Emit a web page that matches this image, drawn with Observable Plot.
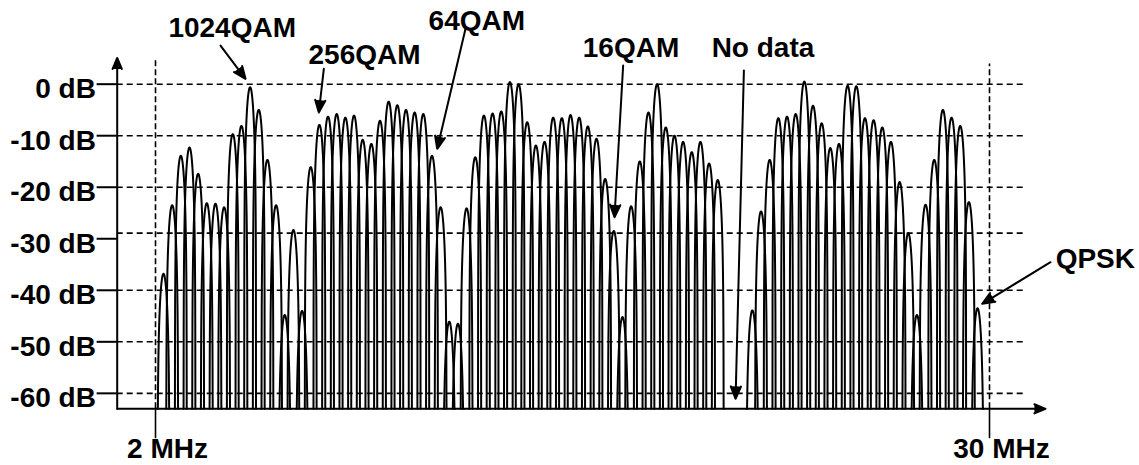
<!DOCTYPE html>
<html><head><meta charset="utf-8">
<script src="https://cdn.jsdelivr.net/npm/d3@7"></script>
<script src="https://cdn.jsdelivr.net/npm/@observablehq/plot@0.6"></script>
<style>html,body{margin:0;padding:0;background:#fff;} svg{display:block;}</style>
</head><body><div id="chart"></div>
<script>
// Peak level (dB) of each carrier, by carrier number (null = carrier absent)
const peakDb = [
  -36.8, -23.5, -13.9, -12.3, -17.4, -23.1, -23.2, -23.9, -9.7, -8.1,
  -0.6, -5.0, -14.7, -23.5, -44.8, -28.3, -44.0, -16.1, -7.9, -6.3,
  -5.8, -6.5, -6.1, -10.8, -11.6, -7.1, -3.4, -4.1, -5.0, -5.5,
  -5.8, -13.9, -23.9, -46.1, -46.5, -24.1, -14.2, -6.1, -5.7, -5.3,
  0.4, 0.0, -7.4, -11.9, -11.2, -6.5, -6.6, -6.0, -6.5, -8.2,
  -10.6, -18.4, -28.5, -45.2, -23.7, -15.0, -5.5, 0.0, -8.4, -10.0,
  -11.2, -13.2, -11.2, -15.4, -18.6, null, null, null, -43.9, -24.7,
  -14.7, -6.6, -6.3, -5.8, 0.5, -4.2, -7.6, -12.4, -11.6, -0.3,
  -0.4, -6.6, -7.0, -8.4, -11.2, -19.0, -28.9, -44.8, -23.4, -14.7,
  -5.0, -6.5, -8.1, -22.9, -43.5
];
const firstCarrierMHz = 2.2686;
const carrierSpacingMHz = 0.29074;
const lobeHalfWidthMHz = 0.198;
const floorDb = -63;

const yTicks = [0, -10, -20, -30, -40, -50, -60];
const yTickLabels = ["0 dB", "-10 dB", "-20 dB", "-30 dB", "-40 dB", "-50 dB", "-60 dB"];
const gridDb = [0, -10, -20, -28.9, -40, -50, -60];

const xTicks = [2, 30];
const xTickLabels = ["2 MHz", "30 MHz"];
const xTickLabelDb = [-72.5, -72.5];
const dashedTopDb = [5.1, 3.9];

const noteLabels = ["1024QAM", "256QAM", "64QAM", "16QAM", "No data", "QPSK"];
const noteX = [4.575, 9.017, 12.787, 17.964, 22.395, 32.22];
const noteY = [9.11, 3.95, 10.55, 5.23, 5.23, -35.77];
const arrowX1 = [4.182, 7.651, 12.408, 17.70, 21.754, 32.048];
const arrowY1 = [7.50, 2.98, 10.74, 3.62, 2.65, -34.55];
const arrowX2 = [5.022, 7.483, 11.458, 17.41, 21.475, 29.755];
const arrowY2 = [1.04, -5.50, -12.54, -25.82, -61.06, -42.62];

const xMin = 0.714, xMax = 31.88, yMax = 5.1;
const gridEndMHz = 31.26;

// Build sinc-shaped main lobe outline for each carrier from its peak level
const lobes = [];
peakDb.forEach((p, k) => {
  if (p == null) return;
  const fc = firstCarrierMHz + k * carrierSpacingMHz;
  const n = 120;
  for (let i = 0; i <= n; i++) {
    const u = -1 + 2 * i / n;
    const s = u === 0 ? 1 : Math.abs(Math.sin(Math.PI * u) / (Math.PI * u));
    let db = s > 1e-9 ? p + 20 * Math.log10(s) : floorDb;
    db = Math.max(db, floorDb);
    lobes.push({k, f: fc + u * lobeHalfWidthMHz, db});
  }
});

const font = "'Liberation Sans', Arial, Helvetica, sans-serif";
const idx = d3.range(noteLabels.length);
const centered = idx.filter(i => noteLabels[i] !== "QPSK");
const leftAligned = idx.filter(i => noteLabels[i] === "QPSK");
const textStyle = {lineAnchor: "bottom", fontSize: 28, fontWeight: "bold", fill: "black"};

const chart = Plot.plot({
  width: 1139,
  height: 465,
  marginLeft: 116.7,
  marginRight: 94,
  marginTop: 57.4,
  marginBottom: 56.7,
  x: {domain: [xMin, xMax], axis: null},
  y: {domain: [floorDb, yMax], axis: null},
  style: {background: "white", color: "black", fontFamily: font, overflow: "visible"},
  marks: [
    Plot.ruleY(gridDb, {x1: xMin, x2: gridEndMHz, stroke: "black", strokeWidth: 1.6, strokeDasharray: "6,4"}),
    Plot.ruleX(xTicks, {x: d => d, y1: floorDb, y2: (d, i) => dashedTopDb[i], stroke: "black", strokeWidth: 1.6, strokeDasharray: "6,3"}),
    Plot.line(lobes, {x: "f", y: "db", z: "k", stroke: "black", strokeWidth: 2, strokeLinejoin: "round"}),
    // axes with arrowheads
    Plot.arrow([{x1: xMin, y1: floorDb, x2: xMin, y2: yMax}, {x1: xMin, y1: floorDb, x2: xMax, y2: floorDb}],
      {x1: "x1", y1: "y1", x2: "x2", y2: "y2", stroke: "black", fill: "black", strokeWidth: 2, headLength: 9, headAngle: 45, strokeLinejoin: "miter"}),
    // y ticks & labels
    Plot.ruleY(yTicks, {x1: 0.04, x2: xMin, stroke: "black", strokeWidth: 2}),
    Plot.text(yTicks, {x: 0.0, y: d => d, text: (d, i) => yTickLabels[i], textAnchor: "end", dy: 14, ...textStyle}),
    // x ticks & labels
    Plot.ruleX(xTicks, {x: d => d, y1: floorDb, y2: -68.8, stroke: "black", strokeWidth: 1.6}),
    Plot.text(xTicks, {x: d => d, y: (d, i) => xTickLabelDb[i], text: (d, i) => xTickLabels[i], dx: 12, ...textStyle}),
    // annotations
    Plot.arrow(idx, {x1: i => arrowX1[i], y1: i => arrowY1[i], x2: i => arrowX2[i], y2: i => arrowY2[i],
      stroke: "black", fill: "black", strokeWidth: 2, headLength: 10, headAngle: 45, strokeLinejoin: "miter"}),
    Plot.text(centered, {x: i => noteX[i], y: i => noteY[i], text: i => noteLabels[i], textAnchor: "middle", ...textStyle}),
    Plot.text(leftAligned, {x: i => noteX[i], y: i => noteY[i], text: i => noteLabels[i], textAnchor: "start", ...textStyle})
  ]
});
document.getElementById("chart").appendChild(chart);
</script>
</body></html>
